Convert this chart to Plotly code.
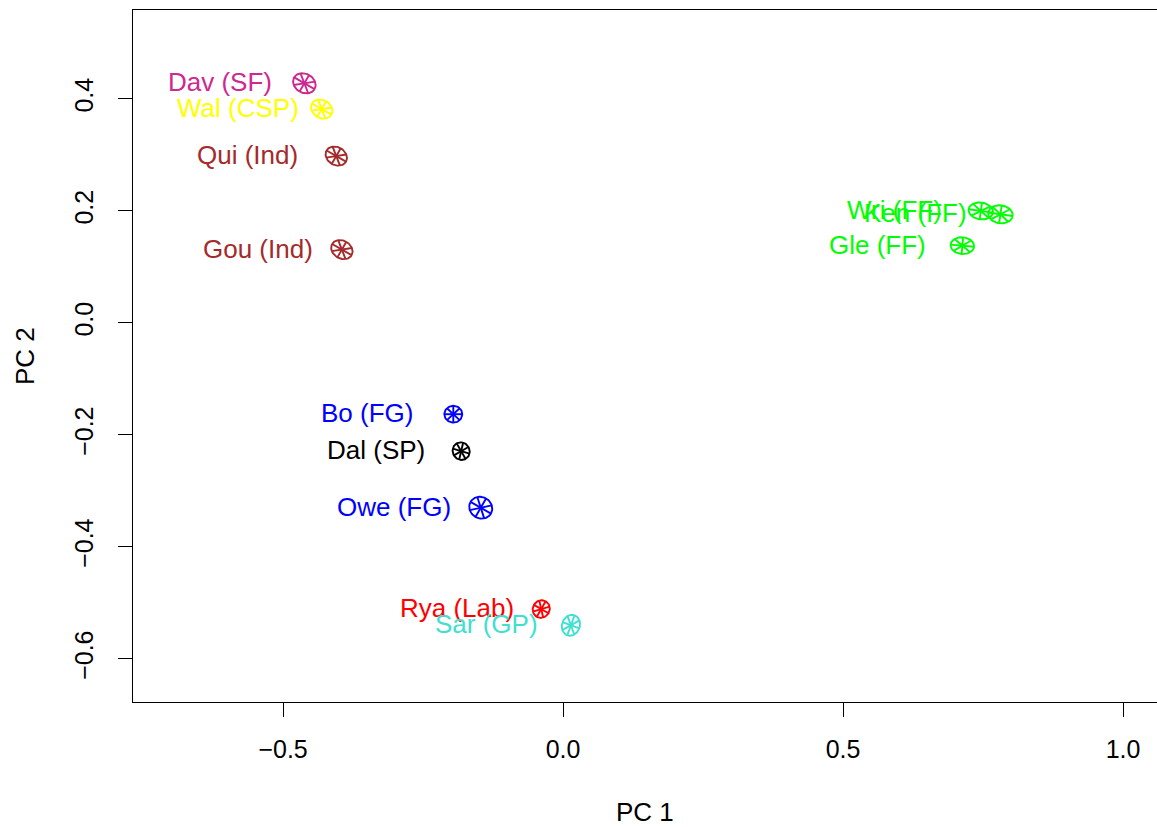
import numpy as np
import plotly.graph_objects as go

# Principal component scores for each speaker
names = ["Dav (SF)", "Wal (CSP)", "Qui (Ind)", "Gou (Ind)", "Wri (FF)", "Ken (FF)",
         "Gle (FF)", "Bo (FG)", "Dal (SP)", "Owe (FG)", "Rya (Lab)", "Sar (GP)"]
pc1 = [-0.462, -0.431, -0.405, -0.395, 0.746, 0.781, 0.713, -0.196, -0.182, -0.147, -0.039, 0.014]
pc2 = [0.428, 0.382, 0.298, 0.131, 0.200, 0.194, 0.138, -0.163, -0.229, -0.330, -0.511, -0.540]
party_colors = ["#CD2990", "#FFFF00", "#A52A2A", "#A52A2A", "#00FF00", "#00FF00",
                "#00FF00", "#0000FF", "#000000", "#0000FF", "#FF0000", "#40E0D0"]

# Wheel glyphs: semi-axes (data units) and tilt (degrees)
glyph_a = [0.021, 0.020, 0.020, 0.020, 0.022, 0.022, 0.021, 0.016, 0.016, 0.021, 0.016, 0.019]
glyph_b = [0.017, 0.016, 0.016, 0.016, 0.015, 0.016, 0.015, 0.015, 0.015, 0.019, 0.015, 0.016]
glyph_tilt = [-30, -30, -30, -30, -8, -8, -5, 0, -60, -30, 60, 70]

# Horizontal gap (px) between each label's right edge and its glyph centre
label_gap = [30, 21, 36, 27, 37, 31, 34, 38, 34, 28, 25, 31]

FONT = "Liberation Sans, Arial, Helvetica, sans-serif"

fig = go.Figure()

t = np.linspace(0, 2 * np.pi, 73)
for cx, cy, a, b, tilt, col in zip(pc1, pc2, glyph_a, glyph_b, glyph_tilt, party_colors):
    th = np.deg2rad(tilt)

    def pt(tt):
        return (cx + a * np.cos(tt) * np.cos(th) - b * np.sin(tt) * np.sin(th),
                cy + a * np.cos(tt) * np.sin(th) + b * np.sin(tt) * np.cos(th))

    ex, ey = pt(t)
    xs = list(ex) + [None]
    ys = list(ey) + [None]
    for k in range(4):
        t0 = k * np.pi / 4
        x0, y0 = pt(t0)
        x1, y1 = pt(t0 + np.pi)
        xs += [x0, x1, None]
        ys += [y0, y1, None]
    fig.add_trace(go.Scatter(x=xs, y=ys, mode="lines",
                             line=dict(color=col, width=1.9),
                             hoverinfo="skip", showlegend=False))

annotations = []
for name, x, y, col, gap in zip(names, pc1, pc2, party_colors, label_gap):
    annotations.append(dict(x=x, y=y, xref="x", yref="y", text=name, showarrow=False,
                            xanchor="right", yanchor="middle", xshift=-gap, yshift=1,
                            font=dict(family=FONT, size=26, color=col)))

annotations.append(dict(x=0.5, y=(702 - 812) / 692, xref="paper", yref="paper",
                        text="PC 1", showarrow=False, xanchor="center", yanchor="middle",
                        font=dict(family=FONT, size=26, color="black")))
annotations.append(dict(x=(25 - 133) / 1024, y=0.5, xref="paper", yref="paper",
                        text="PC 2", showarrow=False, xanchor="center", yanchor="middle",
                        textangle=-90, font=dict(family=FONT, size=26, color="black")))

fig.update_layout(
    width=1157, height=827,
    margin=dict(l=133, r=0, t=10, b=125),
    paper_bgcolor="white", plot_bgcolor="white",
    font=dict(family=FONT, size=25, color="black"),
    annotations=annotations,
    xaxis=dict(range=[-0.768, 1.0606], tickvals=[-0.5, 0.0, 0.5, 1.0],
               ticktext=["\u22120.5", "0.0", "0.5", "1.0"],
               ticks="outside", ticklen=14, tickwidth=1, tickcolor="black",
               showline=True, linecolor="black", linewidth=1, mirror=True,
               showgrid=False, zeroline=False, ticklabelstandoff=11,
               tickfont=dict(family=FONT, size=25, color="black")),
    yaxis=dict(range=[-0.677, 0.5589], tickvals=[-0.6, -0.4, -0.2, 0.0, 0.2, 0.4],
               ticktext=["\u22120.6", "\u22120.4", "\u22120.2", "0.0", "0.2", "0.4"],
               ticks="outside", ticklen=14, tickwidth=1, tickcolor="black",
               showline=True, linecolor="black", linewidth=1, mirror=False,
               showgrid=False, zeroline=False, tickangle=-90, ticklabelstandoff=15,
               tickfont=dict(family=FONT, size=25, color="black")),
)

fig.write_html("out.html")
